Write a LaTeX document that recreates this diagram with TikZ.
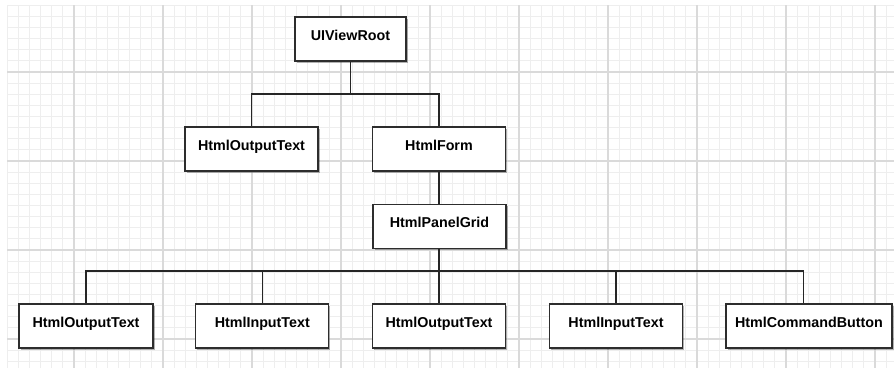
\documentclass[tikz,border=0pt]{standalone}
\usepackage{fontspec}
\setmainfont{Liberation Sans}
\usepackage{tikz}
\usetikzlibrary{shadows}
\definecolor{gridminor}{RGB}{238,238,238}
\definecolor{gridmajor}{RGB}{218,218,218}
\definecolor{boxline}{RGB}{45,45,45}

\begin{document}
\begin{tikzpicture}[
    x=1pt, y=-1pt,
    comp/.style={draw=boxline, line width=1.3pt, fill=white, minimum width=133pt, minimum height=44pt, inner sep=0pt, text height=10pt, text depth=7.6pt, font=\fontsize{14.3}{16}\selectfont\bfseries, drop shadow={shadow xshift=1.5pt, shadow yshift=-1.5pt, opacity=0.3, fill=black}},
    link/.style={draw=black!85, line width=1.1pt}
]
    % Canvas and grid
    \fill[white] (0,0) rectangle (894,368);
    \useasboundingbox (0,0) rectangle (894,368);
    \foreach \i in {0,...,79}
        \draw[gridminor, line width=1pt] (7.25+\i*11.125,5.25) -- (7.25+\i*11.125,368);
    \foreach \i in {0,...,32}
        \draw[gridminor, line width=1pt] (7.25,5.25+\i*11.125) -- (894,5.25+\i*11.125);
    \foreach \i in {0,...,9}
        \draw[gridmajor, line width=1.2pt] (74+\i*89,5.25) -- (74+\i*89,368);
    \foreach \i in {0,...,3}
        \draw[gridmajor, line width=1.2pt] (7.25,72+\i*89) -- (894,72+\i*89);

    % Components
    \node[comp, minimum width=111pt] (root) at (350.5,39) {UIViewRoot};
    \node[comp] (text1) at (251.5,149) {HtmlOutputText};
    \node[comp] (form) at (439,149) {HtmlForm};
    \node[comp] (grid) at (439.5,226.5) {HtmlPanelGrid};
    \node[comp, minimum width=134pt] (text2) at (86,326) {HtmlOutputText};
    \node[comp] (input1) at (262.3,326) {HtmlInputText};
    \node[comp] (text3) at (439,326) {HtmlOutputText};
    \node[comp] (input2) at (616,326) {HtmlInputText};
    \node[comp, minimum width=166pt] (button) at (809,326) {HtmlCommandButton};

    % Bus points
    \coordinate (rootbus) at (350.5,94);
    \coordinate (gridbus) at (439,271);

    % Tree
    \draw[link] (root.south) -- (rootbus);
    \draw[link] (rootbus) -| (text1.north);
    \draw[link] (rootbus) -| (form.north);
    \draw[link] (form.south) -- (form.south |- grid.north);
    \draw[link] (grid.south -| gridbus) -- (gridbus);
    \draw[link] (gridbus) -| (text2.north);
    \draw[link] (gridbus) -| (input1.north);
    \draw[link] (gridbus) -- (text3.north);
    \draw[link] (gridbus) -| (input2.north);
    \draw[link] (gridbus) -| ([xshift=-5.5pt]button.north);
\end{tikzpicture}
\end{document}
